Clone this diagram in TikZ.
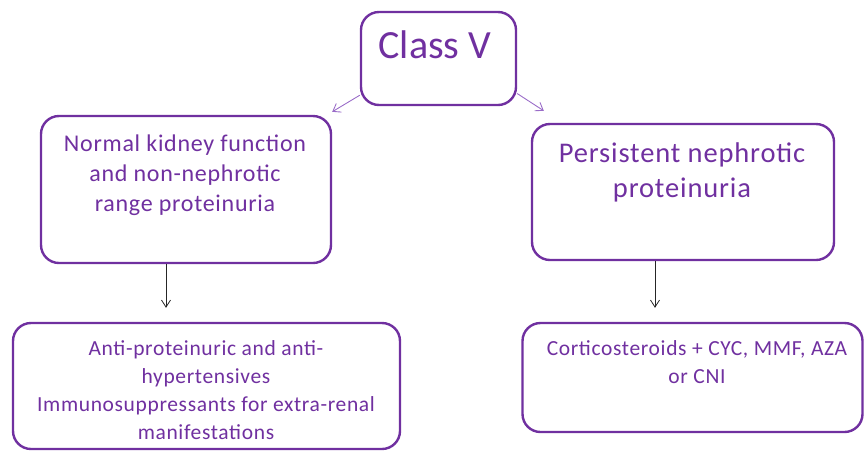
\documentclass[tikz,border=0pt]{standalone}
\usepackage{fontspec}
\setmainfont{Carlito}
\newfontfamily\boxfont[LetterSpace=3]{Carlito}
\usepackage{tikz}
\usepackage{xcolor}
\usetikzlibrary{arrows.meta,positioning}
\definecolor{classpurple}{HTML}{7030A0}
\definecolor{arrowpurple}{HTML}{9A6CC8}

\begin{document}
\begin{tikzpicture}[
        x=1pt, y=-1pt,
        block/.style={rectangle, draw=classpurple, line width=2.4pt, fill=white, rounded corners=18pt, inner sep=0pt},
        label/.style={text=classpurple, align=center, anchor=north, inner sep=0pt},
        line/.style={draw=black!85, line width=0.8pt, -{Straight Barb[length=7pt,width=9pt]}},
        purpleline/.style={draw=arrowpurple, line width=0.9pt, -{Straight Barb[length=7pt,width=10pt]}}
    ]
        \useasboundingbox (0,0) rectangle (864,451);

        % Boxes
        \node[block, minimum width=155pt, minimum height=93pt] (class) at (438.5,58.5) {};
        \node[block, minimum width=290pt, minimum height=147pt] (normal) at (186,189.5) {};
        \node[block, minimum width=302pt, minimum height=136pt] (persist) at (683,192) {};
        \node[block, minimum width=387pt, minimum height=126pt] (antip) at (206.5,386) {};
        \node[block, minimum width=340pt, minimum height=109pt] (cortico) at (692.5,377.5) {};

        % Texts
        \node[label, font=\fontsize{40}{48}\selectfont] (classtxt) at (435,31) {Class V};
        \node[label, font=\boxfont\fontsize{24}{30}\selectfont] (normaltxt) at (185,135) {Normal kidney function\\and non-nephrotic\\range proteinuria};
        \node[label, font=\boxfont\fontsize{28.5}{35}\selectfont] (persisttxt) at (682,143) {Persistent nephrotic\\proteinuria};
        \node[label, font=\boxfont\fontsize{21.5}{28}\selectfont] (antiptxt) at (206,340) {Anti-proteinuric and anti-\\hypertensives\\Immunosuppressants for extra-renal\\manifestations};
        \node[label, font=\boxfont\fontsize{21.5}{28}\selectfont] (corticotxt) at (697,340) {Corticosteroids + CYC, MMF, AZA\\or CNI};

        % Connections
        \draw[purpleline] (class.205) -- ([shift={(0pt,3pt)}]normal.north east);
        \draw[purpleline] (class.336) -- ([shift={(13pt,12pt)}]persist.north west);
        \draw[line, shorten >=14pt] ([xshift=-20pt]normal.south) -- ([xshift=-20pt]normal.south |- antip.north);
        \draw[line, shorten >=14pt] ([xshift=-28pt]persist.south) -- ([xshift=-28pt]persist.south |- cortico.north);
    \end{tikzpicture}
\end{document}
